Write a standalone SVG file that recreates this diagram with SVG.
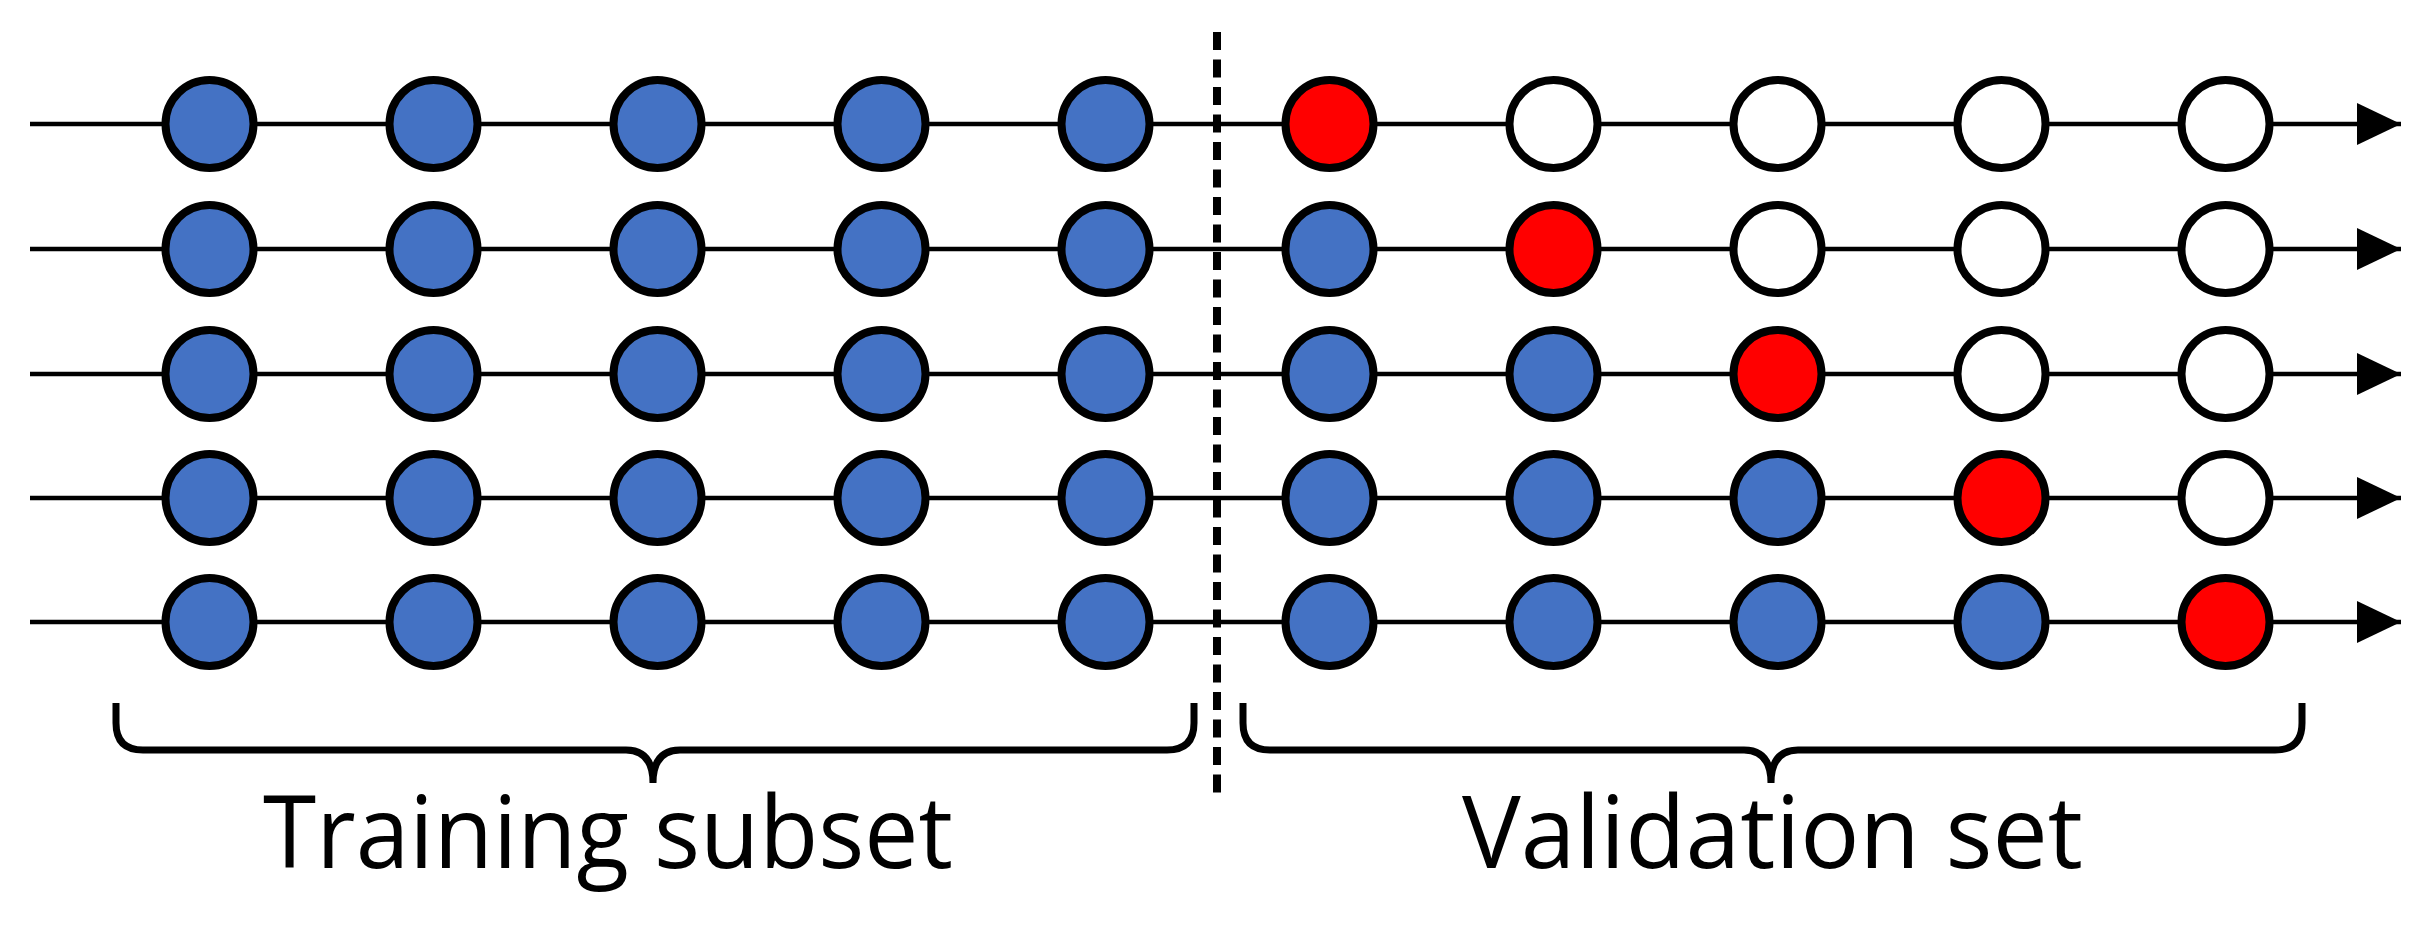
<svg xmlns="http://www.w3.org/2000/svg" width="2423" height="926" viewBox="0 0 2423 926">
<style>
.ln{stroke:#000;stroke-width:4.5;fill:none}
.n circle{stroke:#000;stroke-width:8}
.b{fill:#4472C4}.r{fill:#FF0000}.w{fill:#FFFFFF}
.br{stroke:#000;stroke-width:7;fill:none;stroke-linecap:butt}
.div{stroke:#000;stroke-width:8;stroke-dasharray:18 9.5}
.lbl{font-family:"Open Sans","Noto Sans","Liberation Sans",sans-serif;font-size:100px;fill:#000}
</style>
<defs>
<marker id="ah" markerUnits="userSpaceOnUse" markerWidth="44" markerHeight="42" refX="44" refY="21" orient="auto">
<path d="M0,0 L44,21 L0,42 z" fill="#000"/>
</marker>
</defs>
<rect width="2423" height="926" fill="#fff"/>
<g id="connectors">
<line class="ln" x1="30" y1="124" x2="2401" y2="124" marker-end="url(#ah)"/>
<line class="ln" x1="30" y1="249" x2="2401" y2="249" marker-end="url(#ah)"/>
<line class="ln" x1="30" y1="374" x2="2401" y2="374" marker-end="url(#ah)"/>
<line class="ln" x1="30" y1="498" x2="2401" y2="498" marker-end="url(#ah)"/>
<line class="ln" x1="30" y1="622" x2="2401" y2="622" marker-end="url(#ah)"/>
</g>
<line id="divider" class="div" x1="1217" y1="32" x2="1217" y2="802"/>
<g id="nodes">
<g id="r1c1" class="n"><circle class="b" cx="209.5" cy="124" r="44"/></g>
<g id="r1c2" class="n"><circle class="b" cx="433.5" cy="124" r="44"/></g>
<g id="r1c3" class="n"><circle class="b" cx="657.5" cy="124" r="44"/></g>
<g id="r1c4" class="n"><circle class="b" cx="881.5" cy="124" r="44"/></g>
<g id="r1c5" class="n"><circle class="b" cx="1105.5" cy="124" r="44"/></g>
<g id="r1c6" class="n"><circle class="r" cx="1329.5" cy="124" r="44"/></g>
<g id="r1c7" class="n"><circle class="w" cx="1553.5" cy="124" r="44"/></g>
<g id="r1c8" class="n"><circle class="w" cx="1777.5" cy="124" r="44"/></g>
<g id="r1c9" class="n"><circle class="w" cx="2001.5" cy="124" r="44"/></g>
<g id="r1c10" class="n"><circle class="w" cx="2225.5" cy="124" r="44"/></g>

<g id="r2c1" class="n"><circle class="b" cx="209.5" cy="249" r="44"/></g>
<g id="r2c2" class="n"><circle class="b" cx="433.5" cy="249" r="44"/></g>
<g id="r2c3" class="n"><circle class="b" cx="657.5" cy="249" r="44"/></g>
<g id="r2c4" class="n"><circle class="b" cx="881.5" cy="249" r="44"/></g>
<g id="r2c5" class="n"><circle class="b" cx="1105.5" cy="249" r="44"/></g>
<g id="r2c6" class="n"><circle class="b" cx="1329.5" cy="249" r="44"/></g>
<g id="r2c7" class="n"><circle class="r" cx="1553.5" cy="249" r="44"/></g>
<g id="r2c8" class="n"><circle class="w" cx="1777.5" cy="249" r="44"/></g>
<g id="r2c9" class="n"><circle class="w" cx="2001.5" cy="249" r="44"/></g>
<g id="r2c10" class="n"><circle class="w" cx="2225.5" cy="249" r="44"/></g>

<g id="r3c1" class="n"><circle class="b" cx="209.5" cy="374" r="44"/></g>
<g id="r3c2" class="n"><circle class="b" cx="433.5" cy="374" r="44"/></g>
<g id="r3c3" class="n"><circle class="b" cx="657.5" cy="374" r="44"/></g>
<g id="r3c4" class="n"><circle class="b" cx="881.5" cy="374" r="44"/></g>
<g id="r3c5" class="n"><circle class="b" cx="1105.5" cy="374" r="44"/></g>
<g id="r3c6" class="n"><circle class="b" cx="1329.5" cy="374" r="44"/></g>
<g id="r3c7" class="n"><circle class="b" cx="1553.5" cy="374" r="44"/></g>
<g id="r3c8" class="n"><circle class="r" cx="1777.5" cy="374" r="44"/></g>
<g id="r3c9" class="n"><circle class="w" cx="2001.5" cy="374" r="44"/></g>
<g id="r3c10" class="n"><circle class="w" cx="2225.5" cy="374" r="44"/></g>

<g id="r4c1" class="n"><circle class="b" cx="209.5" cy="498" r="44"/></g>
<g id="r4c2" class="n"><circle class="b" cx="433.5" cy="498" r="44"/></g>
<g id="r4c3" class="n"><circle class="b" cx="657.5" cy="498" r="44"/></g>
<g id="r4c4" class="n"><circle class="b" cx="881.5" cy="498" r="44"/></g>
<g id="r4c5" class="n"><circle class="b" cx="1105.5" cy="498" r="44"/></g>
<g id="r4c6" class="n"><circle class="b" cx="1329.5" cy="498" r="44"/></g>
<g id="r4c7" class="n"><circle class="b" cx="1553.5" cy="498" r="44"/></g>
<g id="r4c8" class="n"><circle class="b" cx="1777.5" cy="498" r="44"/></g>
<g id="r4c9" class="n"><circle class="r" cx="2001.5" cy="498" r="44"/></g>
<g id="r4c10" class="n"><circle class="w" cx="2225.5" cy="498" r="44"/></g>

<g id="r5c1" class="n"><circle class="b" cx="209.5" cy="622" r="44"/></g>
<g id="r5c2" class="n"><circle class="b" cx="433.5" cy="622" r="44"/></g>
<g id="r5c3" class="n"><circle class="b" cx="657.5" cy="622" r="44"/></g>
<g id="r5c4" class="n"><circle class="b" cx="881.5" cy="622" r="44"/></g>
<g id="r5c5" class="n"><circle class="b" cx="1105.5" cy="622" r="44"/></g>
<g id="r5c6" class="n"><circle class="b" cx="1329.5" cy="622" r="44"/></g>
<g id="r5c7" class="n"><circle class="b" cx="1553.5" cy="622" r="44"/></g>
<g id="r5c8" class="n"><circle class="b" cx="1777.5" cy="622" r="44"/></g>
<g id="r5c9" class="n"><circle class="b" cx="2001.5" cy="622" r="44"/></g>
<g id="r5c10" class="n"><circle class="r" cx="2225.5" cy="622" r="44"/></g>
</g>
<g id="training-bracket">
<path class="br" d="M116,703 V723 Q116,750 143,750 H626 Q653,750 653,783 Q653,750 680,750 H1167 Q1194,750 1194,723 V703"/>
<text class="lbl" x="263" y="868" textLength="690" lengthAdjust="spacingAndGlyphs">Training subset</text>
</g>
<g id="validation-bracket">
<path class="br" d="M1243,703 V723 Q1243,750 1270,750 H1744 Q1771,750 1771,783 Q1771,750 1798,750 H2275 Q2302,750 2302,723 V703"/>
<text class="lbl" x="1462" y="868" textLength="621" lengthAdjust="spacingAndGlyphs">Validation set</text>
</g>
</svg>
